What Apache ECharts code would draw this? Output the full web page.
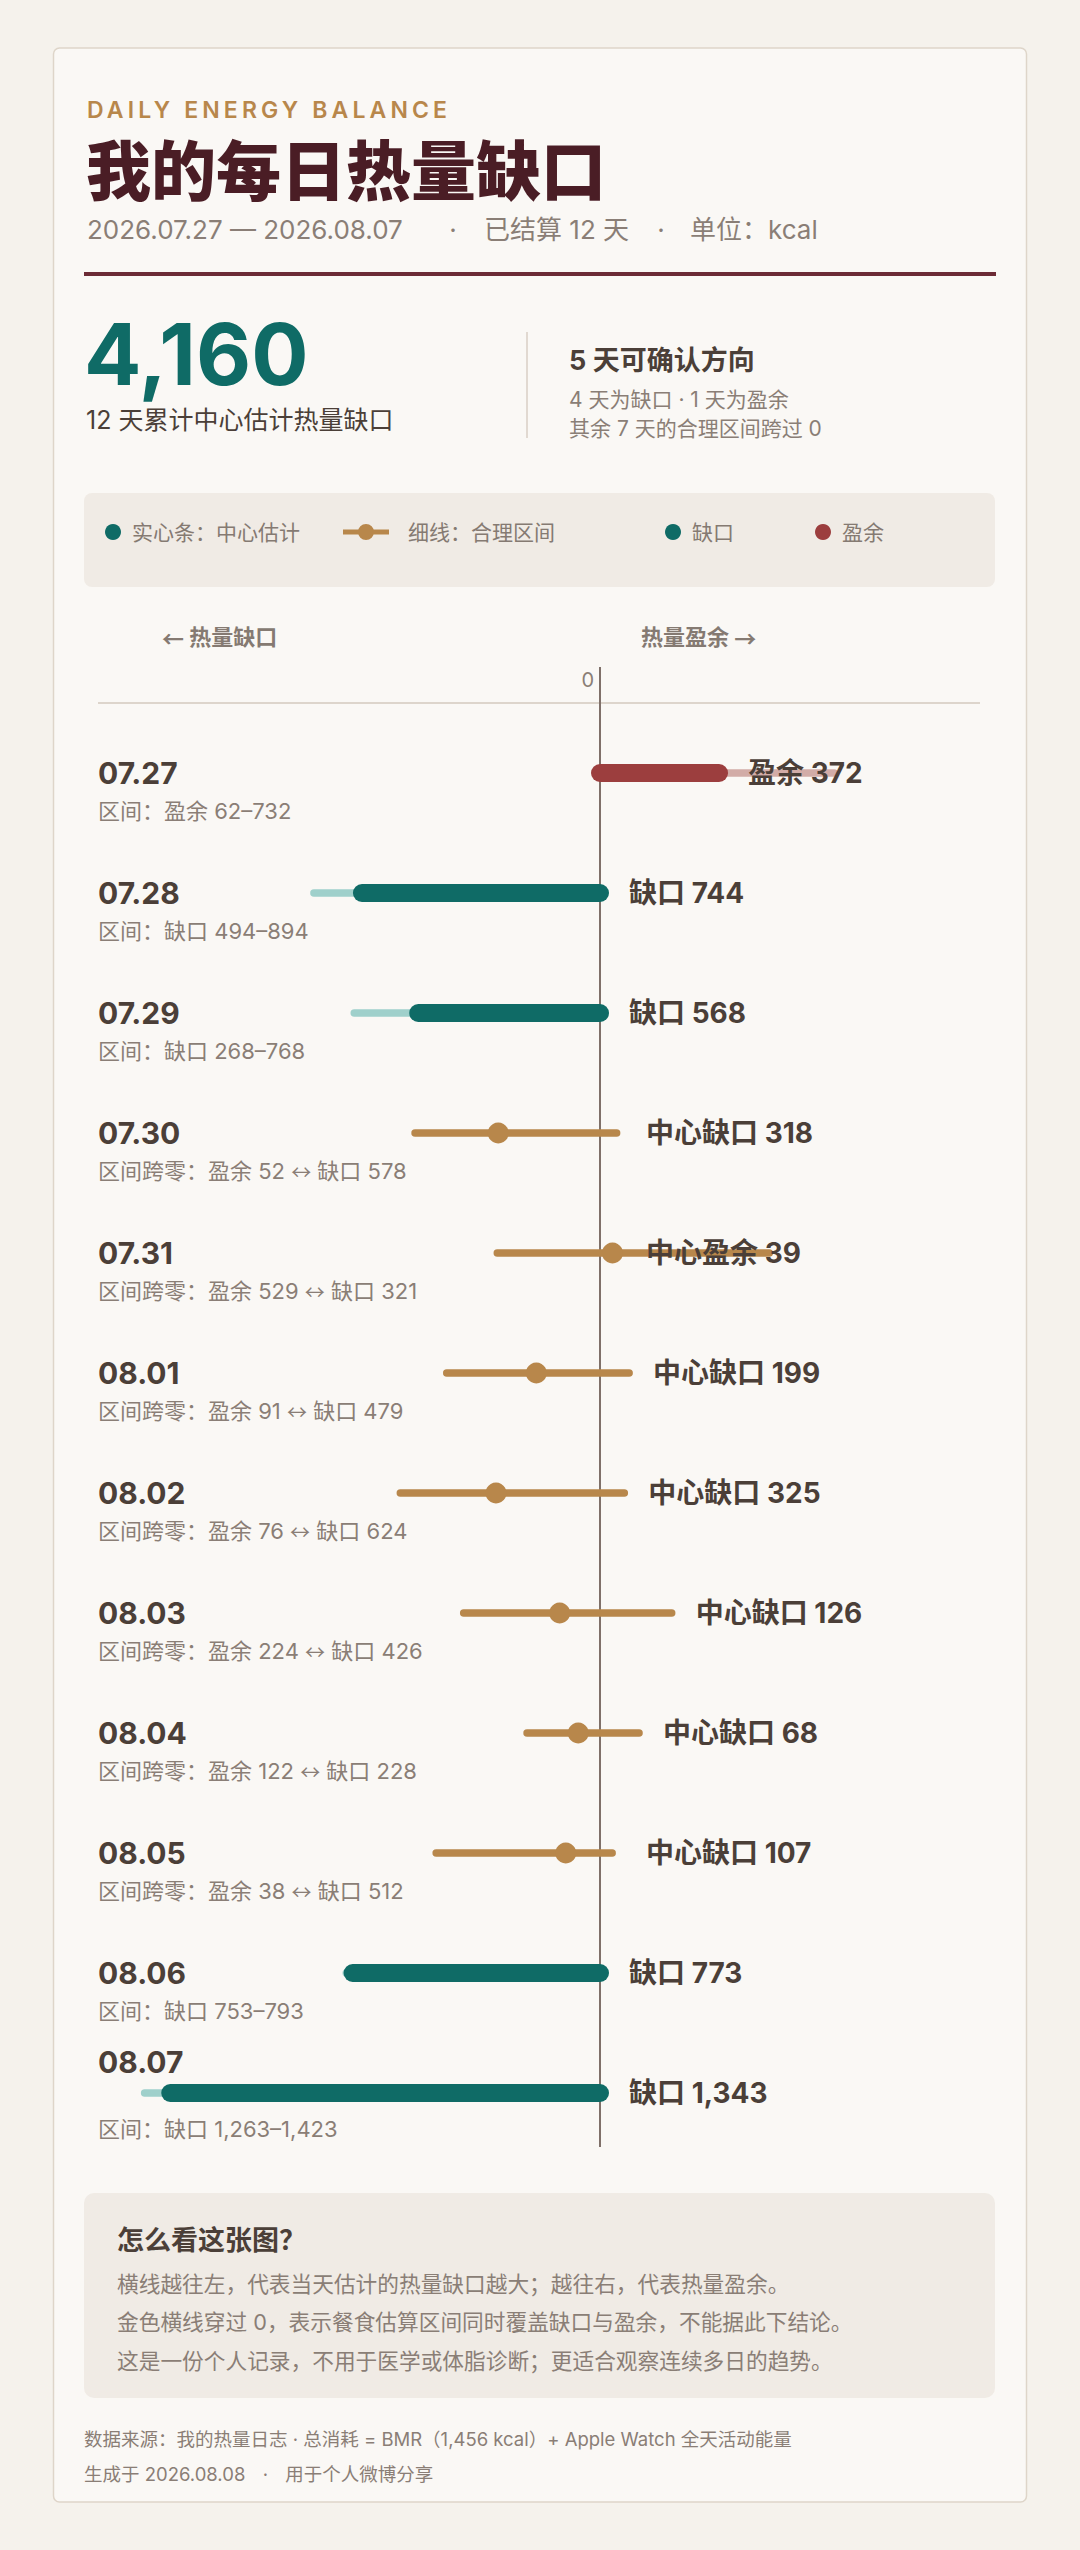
<!DOCTYPE html>
<html><head><meta charset="utf-8">
<script src="https://cdn.jsdelivr.net/npm/echarts@6/dist/echarts.min.js"></script>
<style>html,body{margin:0;padding:0;background:#f5f2ec;}#c{width:1080px;height:2550px;}</style>
</head><body><div id="c"></div>
<script>
// ---------- data ----------
const dates = ['07.27','07.28','07.29','07.30','07.31','08.01','08.02','08.03','08.04','08.05','08.06','08.07'];
// signed kcal: negative = deficit (缺口), positive = surplus (盈余)
const centerValues = [372, -744, -568, -318, 39, -199, -325, -126, -68, -107, -773, -1343];
const rangeLow     = [62, -894, -768, -578, -321, -479, -624, -426, -228, -512, -793, -1423];
const rangeHigh    = [732, -494, -268, 52, 529, 91, 76, 224, 122, 38, -753, -1263];
const zeroTick = [0];
const yearLabel = '2026';
const generatedOn = '2026.08.08';
const bmr = 1456;

// ---------- style ----------
const FONT = 'Inter, "Noto Sans CJK SC", sans-serif';
const ARROW_FONT = '"Noto Sans CJK SC", sans-serif';
const C = {
  card:'#faf8f5', border:'#ded5c9', gold:'#b8874b', title:'#4a1d25', grey:'#8a7e76',
  rule:'#6c2b36', teal:'#0f6b66', tealLight:'#9fd0cb', red:'#9c3e3e', redLight:'#d2aca7',
  dark:'#4b3f38', box:'#f0ebe5', legend:'#857a72', zero:'#7f7069', hrule:'#ddd5cc', divider:'#d8cfc5'
};

const n = dates.length;
const status = dates.map((d,i)=> rangeLow[i] >= 0 ? 'surplus' : (rangeHigh[i] <= 0 ? 'deficit' : 'cross'));
const fmt = v => Math.abs(v).toLocaleString('en-US');
const rows = dates.map((d,i)=>[rangeLow[i], rangeHigh[i], centerValues[i], i]);

const totalDeficit = -centerValues.reduce((a,b)=>a+b,0);
const deficitDays = status.filter(s=>s==='deficit').length;
const surplusDays = status.filter(s=>s==='surplus').length;
const crossDays = status.filter(s=>s==='cross').length;

function subText(i){
  const lo = rangeLow[i], hi = rangeHigh[i];
  if (status[i]==='deficit') return '区间：缺口 ' + fmt(hi) + '–' + fmt(lo);
  if (status[i]==='surplus') return '区间：盈余 ' + fmt(lo) + '–' + fmt(hi);
  return '区间跨零：盈余 ' + fmt(hi) + ' {ar|↔} 缺口 ' + fmt(lo);
}
function valueText(i){
  const c = centerValues[i];
  if (status[i]==='deficit') return '缺口 ' + fmt(c);
  if (status[i]==='surplus') return '盈余 ' + fmt(c);
  return (c < 0 ? '中心缺口 ' : '中心盈余 ') + fmt(c);
}

function renderRange(params, api){
  const i = api.value(3);
  const p1 = api.coord([api.value(0), i]), p2 = api.coord([api.value(1), i]);
  const st = status[i];
  const color = st==='cross' ? C.gold : (st==='deficit' ? C.tealLight : C.redLight);
  return {type:'line', shape:{x1:p1[0],y1:p1[1],x2:p2[0],y2:p2[1]},
    style:{stroke:color, lineWidth:7.5, lineCap:'round'}};
}
function renderCenter(params, api){
  const i = api.value(3);
  const c = api.value(2);
  const pc = api.coord([c, i]), p0 = api.coord([0, i]);
  if (status[i]==='cross'){
    return {type:'circle', shape:{cx:pc[0], cy:pc[1], r:10.5}, style:{fill:C.gold}};
  }
  return {type:'line', shape:{x1:p0[0],y1:p0[1],x2:pc[0],y2:pc[1]},
    style:{stroke: status[i]==='deficit' ? C.teal : C.red, lineWidth:18, lineCap:'round'}};
}
function renderLabels(params, api){
  const i = api.value(3);
  const c = api.value(2), hi = api.value(1);
  const p0 = api.coord([0, i]);
  const y = p0[1];
  let lx;
  if (status[i]==='cross'){
    const anchor = c > 0 ? c : hi;
    lx = Math.max(p0[0] + 46, api.coord([anchor, i])[0] + 24);
  } else {
    lx = api.coord([Math.max(0, c), i])[0] + 29;
  }
  const last = i === n - 1;
  return {type:'group', children:[
    {type:'text', x:98, y: last ? y - 31 : y, style:{text:dates[i], fill:C.dark, fontSize:30, fontWeight:'bold', fontFamily:FONT, align:'left', verticalAlign:'middle'}},
    {type:'text', x:98, y: last ? y + 36 : y + 38, style:{text:subText(i), fill:C.grey, fontSize:22, fontFamily:FONT, align:'left', verticalAlign:'middle',
      rich:{ar:{fontFamily:ARROW_FONT, fontSize:20, fill:C.grey, color:C.grey}}}},
    {type:'text', x:lx, y:y, style:{text:valueText(i), fill:C.dark, fontSize:28, fontWeight:'bold', fontFamily:FONT, align:'left', verticalAlign:'middle'}}
  ]};
}

const chart = echarts.init(document.getElementById('c'), null, {renderer:'svg', width:1080, height:2550});

const legendBase = {top:521, itemHeight:16, selectedMode:false, padding:0,
  textStyle:{fontSize:21, color:C.legend, fontFamily:FONT, lineHeight:22}};
const goldIcon = 'path://M0,5.5H46V10.5H0Z M15,8a8,8 0 1,1 16,0a8,8 0 1,1 -16,0Z';

const option = {
  animation:false,
  backgroundColor:'#f5f2ec',
  grid:{left:104, width:880, top:713, height:1440},
  xAxis:{type:'value', min:-1550, max:1200, axisLine:{show:false}, axisTick:{show:false}, axisLabel:{show:false}, splitLine:{show:false}},
  yAxis:{type:'category', data:dates, inverse:true, axisLine:{show:false}, axisTick:{show:false}, axisLabel:{show:false}, splitLine:{show:false}},
  legend:[
    Object.assign({}, legendBase, {left:105, itemWidth:28, data:[{name:'实心条：中心估计', icon:'circle', itemStyle:{color:C.teal, opacity:1}}]}),
    Object.assign({}, legendBase, {left:343, itemWidth:74, data:[{name:'细线：合理区间', icon:goldIcon, itemStyle:{color:C.gold, opacity:1}}]}),
    Object.assign({}, legendBase, {left:665, itemWidth:28, data:[{name:'缺口', icon:'circle', itemStyle:{color:C.teal, opacity:1}}]}),
    Object.assign({}, legendBase, {left:815, itemWidth:28, data:[{name:'盈余', icon:'circle', itemStyle:{color:C.red, opacity:1}}]})
  ],
  series:[
    {name:'细线：合理区间', type:'custom', renderItem:renderRange, data:rows, encode:{x:[0,1,2], y:3}, clip:false, z:2, silent:true},
    {name:'实心条：中心估计', type:'custom', renderItem:renderCenter, data:rows, encode:{x:[0,1,2], y:3}, clip:false, z:3, silent:true},
    {name:'labels', type:'custom', renderItem:renderLabels, data:rows, encode:{x:[0,1,2], y:3}, clip:false, z:4, silent:true},
    {name:'缺口', type:'scatter', data:[], itemStyle:{color:C.teal, opacity:1}},
    {name:'盈余', type:'scatter', data:[], itemStyle:{color:C.red, opacity:1}}
  ]
};
chart.setOption(option);

// ---------- decorations & text ----------
const zeroX = chart.convertToPixel({gridIndex:0}, [zeroTick[0], 0])[0];
const mctx = document.createElement('canvas').getContext('2d');
function tw(text, size, weight){ mctx.font = (weight||'normal') + ' ' + size + 'px ' + FONT; return mctx.measureText(text).width; }

function T(x, y, text, size, color, weight, align, extra){
  const st = {text:text, fill:color, fontSize:size, fontWeight:weight||'normal', fontFamily:FONT, align:align||'left', verticalAlign:'middle'};
  return {type:'text', x:x, y:y, style:Object.assign(st, extra||{})};
}
const arrowRich = (size, color) => ({rich:{ar:{fontFamily:ARROW_FONT, fontSize:size, fontWeight:'bold', fill:color, color:color}}});
const els = [];
els.push({type:'rect', shape:{x:53.5, y:48, width:973, height:2454, r:6}, style:{fill:C.card, stroke:C.border, lineWidth:1.5}});
els.push({type:'rect', shape:{x:84, y:493, width:911, height:94, r:8}, style:{fill:C.box}});
els.push({type:'rect', shape:{x:84, y:2193, width:911, height:205, r:10}, style:{fill:C.box}});
els.push({type:'rect', shape:{x:84, y:272, width:912, height:4}, style:{fill:C.rule}});
els.push({type:'line', shape:{x1:527, y1:332, x2:527, y2:438}, style:{stroke:C.divider, lineWidth:1.5}});
els.push({type:'line', shape:{x1:98, y1:703, x2:980, y2:703}, style:{stroke:C.hrule, lineWidth:2}});
els.push({type:'line', shape:{x1:zeroX, y1:667, x2:zeroX, y2:2147}, style:{stroke:C.zero, lineWidth:2}});
els.push(T(zeroX - 6, 680, String(zeroTick[0]), 20, C.grey, 'normal', 'right'));
els.push(T(162, 637, '{ar|←} 热量缺口', 22, C.legend, 'bold', 'left', arrowRich(22, C.legend)));
els.push(T(641, 637, '热量盈余 {ar|→}', 22, C.legend, 'bold', 'left', arrowRich(22, C.legend)));

// header
els.push(T(87, 110, 'DAILY ENERGY BALANCE', 23, C.gold, '600'));
els.push(T(86, 171, '我的每日热量缺口', 65, C.title, '900'));
els.push(T(87, 229, yearLabel + '.' + dates[0] + ' — ' + yearLabel + '.' + dates[n-1], 26, C.grey));
els.push(T(453, 229, '·', 26, C.grey, 'normal', 'center'));
els.push(T(484, 229, '已结算 ' + n + ' 天', 26, C.grey));
els.push(T(661, 229, '·', 26, C.grey, 'normal', 'center'));
els.push(T(690, 229, '单位：kcal', 26, C.grey));

els.push(T(84, 354, totalDeficit.toLocaleString('en-US'), 85, C.teal, 'bold', 'left', {lineHeight:64}));
els.push(T(86, 420, n + ' 天累计中心估计热量缺口', 25, C.dark, 'normal', 'left', {lineHeight:26}));
els.push(T(569, 360, (deficitDays + surplusDays) + ' 天可确认方向', 27, C.dark, 'bold'));
els.push(T(569, 399, deficitDays + ' 天为缺口 · ' + surplusDays + ' 天为盈余', 21, C.grey));
els.push(T(569, 428, '其余 ' + crossDays + ' 天的合理区间跨过 0', 21, C.grey));

// info box
els.push(T(117, 2240, '怎么看这张图？', 27, C.dark, 'bold'));
els.push(T(117, 2284, '横线越往左，代表当天估计的热量缺口越大；越往右，代表热量盈余。', 21.7, C.grey));
els.push(T(117, 2322, '金色横线穿过 0，表示餐食估算区间同时覆盖缺口与盈余，不能据此下结论。', 21.7, C.grey));
els.push(T(117, 2361, '这是一份个人记录，不用于医学或体脂诊断；更适合观察连续多日的趋势。', 21.7, C.grey));
// footer
els.push(T(84, 2439, '数据来源：我的热量日志 · 总消耗 = BMR（' + bmr.toLocaleString('en-US') + ' kcal）+ Apple Watch 全天活动能量', 18.5, C.grey));
(function(){
  const a = '生成于 ' + generatedOn, b = '用于个人微博分享';
  let x = 84;
  els.push(T(x, 2474, a, 18.5, C.grey));
  x += tw(a, 18.5) + 20;
  els.push(T(x, 2474, '·', 18.5, C.grey, 'normal', 'center'));
  x += 20;
  els.push(T(x, 2474, b, 18.5, C.grey));
})();

chart.setOption({graphic:{elements:els.map(e=>Object.assign({}, e, {z: e.type==='rect' ? -10 : 0}))}});

// letter-spacing for the kicker (svg text)
const kickW = tw('DAILY ENERGY BALANCE', 23, '600');
const ls = Math.max(0, (360 - kickW) / 19);
function applyLS(){
  document.querySelectorAll('#c svg text').forEach(t=>{
    if (t.textContent === 'DAILY ENERGY BALANCE') t.setAttribute('letter-spacing', ls.toFixed(2) + 'px');
  });
}
chart.on('finished', applyLS);
applyLS(); setTimeout(applyLS, 30); setTimeout(applyLS, 200);
</script></body></html>
